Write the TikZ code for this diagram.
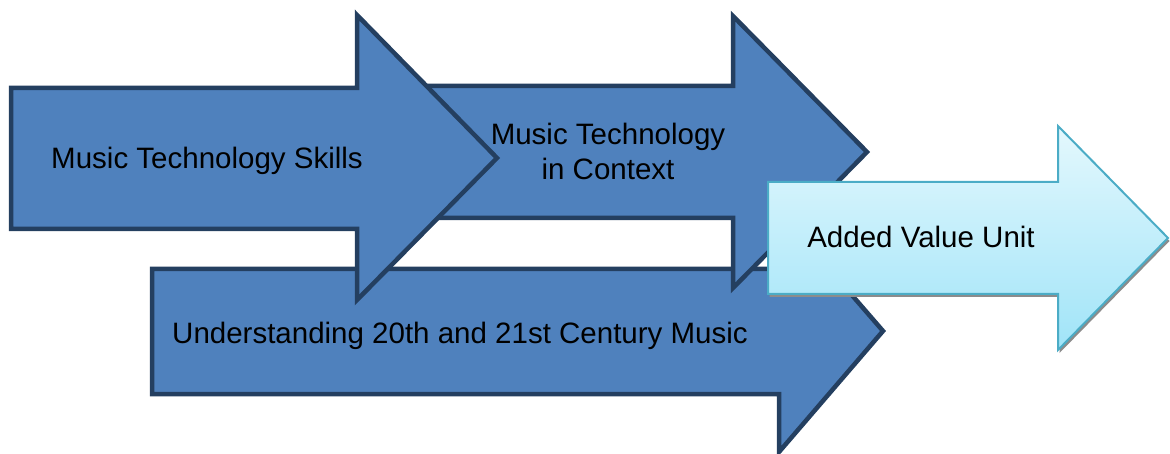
\documentclass[tikz,border=0pt]{standalone}
\usepackage{fontspec}
\setmainfont{Liberation Sans}
\usetikzlibrary{shadows}
\definecolor{arrowblue}{RGB}{79,129,189}
\definecolor{arrowedge}{RGB}{36,63,96}
\definecolor{cyanedge}{RGB}{75,172,198}
\definecolor{cyantop}{RGB}{228,248,253}
\definecolor{cyanbot}{RGB}{160,228,248}
\tikzset{
  bluearrow/.style={fill=arrowblue, draw=arrowedge, line width=4.5pt, line join=miter},
  cyanarrow/.style={top color=cyantop, bottom color=cyanbot, draw=cyanedge, line width=2pt, line join=miter,
    drop shadow={shadow xshift=1.5pt, shadow yshift=-3pt, fill=black!45, opacity=1}},
  lbl/.style={font=\fontsize{29.5pt}{35pt}\selectfont, text=black, inner sep=0pt}
}
\begin{document}
\begin{tikzpicture}[x=1pt,y=-1pt]
\useasboundingbox (0,0) rectangle (1170,454);
% arrow 3
\draw[bluearrow] (152,269) -- (779,269) -- (779,211) -- (883,331) -- (779,452) -- (779,394) -- (152,394) -- cycle;
% arrow 2
\draw[bluearrow] (370,86) -- (733,86) -- (733,16) -- (867,152) -- (733,288) -- (733,218) -- (370,218) -- cycle;
% arrow 1
\draw[bluearrow] (11,88) -- (357,88) -- (357,15) -- (497,158) -- (357,300) -- (357,229) -- (11,229) -- cycle;
% arrow 4
\draw[cyanarrow] (768,182) -- (1058,182) -- (1058,126) -- (1168,238) -- (1058,350) -- (1058,294) -- (768,294) -- cycle;
% labels
\node[lbl, anchor=base] (skills) at (207,169) {Music Technology Skills};
\node[lbl, anchor=base, align=center] (context) at (608,180) {Music Technology\\in Context};
\node[lbl, anchor=base] (understanding) at (460,343) {Understanding 20th and 21st Century Music};
\node[lbl, anchor=base] (added) at (921,248) {Added Value Unit};
\end{tikzpicture}
\end{document}
